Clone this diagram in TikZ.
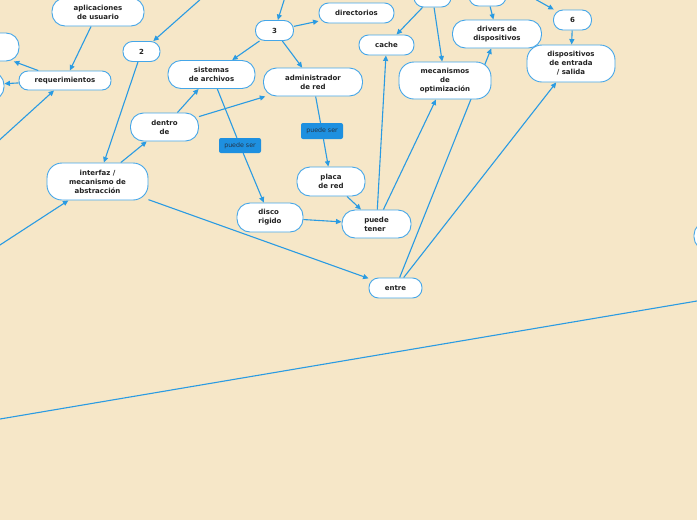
\documentclass[tikz,border=0pt]{standalone}
\usepackage{fontspec}
\setmainfont{DejaVu Sans}
\usetikzlibrary{arrows.meta}
\definecolor{bgc}{HTML}{F6E7C8}
\definecolor{ln}{HTML}{2A9BE2}
\definecolor{bd}{HTML}{45A6E8}
\definecolor{lbl}{HTML}{1E90E0}
\definecolor{tx}{HTML}{222222}
\definecolor{ltx}{HTML}{243447}
\pgfdeclarelayer{bglayer}
\pgfdeclarelayer{edgelayer}
\pgfsetlayers{bglayer,edgelayer,main}
\begin{document}
\begin{tikzpicture}[x=1pt,y=-1pt,
  box/.style={draw=bd, line width=0.9pt, fill=white, rounded corners=#1, inner sep=0pt,
    font=\fontsize{7}{9}\selectfont\bfseries, text=tx, align=center},
  box/.default=9.5pt,
  sz/.style 2 args={minimum width=#1pt, minimum height=#2pt},
  lab/.style={fill=lbl, rounded corners=2pt, inner sep=0pt,
    font=\fontsize{6.3}{7}\selectfont, text=ltx},
  ed/.style={draw=ln, line width=1.1pt, -{Triangle[length=5.5pt,width=5pt]}},
  pl/.style={draw=ln, line width=1.1pt}]
\useasboundingbox (0,0) rectangle (697,520);
\begin{pgfonlayer}{bglayer}
\fill[bgc] (0,0) rectangle (697,520);
\end{pgfonlayer}
\clip (0,0) rectangle (697,520);
% nodes
\node[box=13pt, sz={92}{28}] (apl) at (98,12) {aplicaciones\\de usuario};
\node[box=13pt, sz={88}{28}] (L2) at (-25,47) {};
\node[box=13pt, sz={88}{28}] (L3) at (-40,86) {};
\node[box=9pt, sz={92}{19}] (req) at (65,80.5) {requerimientos};
\node[box, sz={37}{20}] (n2) at (141.5,51.5) {2};
\node[box=13pt, sz={87}{28}] (sis) at (211.5,74.5) {sistemas\\de archivos};
\node[box, sz={38}{20}] (n3) at (274.5,30.5) {3};
\node[box, sz={75}{20}] (dir) at (356.5,13) {directorios};
\node[box=13pt, sz={99}{28}] (adm) at (313,82) {administrador\\de red};
\node[box, sz={55}{20}] (cache) at (386.5,45) {cache};
\node[box, sz={37}{20}] (t4) at (432.5,-3) {};
\node[box=15pt, sz={92}{37}] (mec) at (445,80.5) {mecanismos\\de\\optimización};
\node[box, sz={37}{20}] (t5) at (487.5,-4) {};
\node[box=13pt, sz={89}{28}] (drv) at (497,34) {drivers de\\dispositivos};
\node[box, sz={38}{20}] (n6) at (572.5,20) {6};
\node[box=15pt, sz={88}{37}] (dio) at (571,63.5) {dispositivos\\de entrada\\/ salida};
\node[box=13pt, sz={68}{28}] (dentro) at (164.5,127) {dentro\\de};
\node[box=15pt, sz={101}{37}] (inter) at (97.5,181.5) {interfaz /\\mecanismo de\\abstracción};
\node[lab, sz={42}{15}] (ps1) at (240,145.5) {puede ser};
\node[lab, sz={42}{16}] (ps2) at (322,131) {puede ser};
\node[box=13pt, sz={68}{29}] (placa) at (331,181.5) {placa\\de red};
\node[box=13pt, sz={66}{29}, align=left] (disco) at (270,217.5) {disco\\rigido};
\node[box=13pt, sz={69}{28}, align=left] (tener) at (376.5,224) {puede\\tener};
\node[box, sz={53}{20}] (entre) at (395.5,288) {entre};
\node[box=13pt, sz={92}{28}] (R) at (740,236) {};
% free ends
\coordinate (c2) at (229,-26);
\coordinate (c3) at (293,-28);
\coordinate (c6) at (483,-30);
\coordinate (cq) at (-60,194);
\coordinate (ci) at (-60,284);
\coordinate (la) at (-10,420.7);
\coordinate (lb) at (710,298.8);
% connectors
\begin{pgfonlayer}{edgelayer}
\begin{scope}
\clip (0,0) rectangle (697,520);
\draw[ed] (c2) -- (n2);
\draw[ed] (n2) -- (inter);
\draw[ed] (apl) -- (req);
\draw[ed] (req) -- (L2);
\draw[ed] (req) -- (L3);
\draw[ed] (cq) -- (req);
\draw[ed] (ci) -- (inter);
\draw[ed] (inter) -- (dentro);
\draw[ed] (dentro) -- (sis);
\draw[ed] (dentro) -- (adm);
\draw[pl] (sis) -- (ps1);
\draw[ed] (ps1) -- (disco);
\draw[pl] (adm) -- (ps2);
\draw[ed] (ps2) -- (placa);
\draw[ed] (inter) -- (entre);
\draw[ed] (disco) -- (tener);
\draw[ed] (placa) -- (tener);
\draw[ed] (tener) -- (cache);
\draw[ed] (tener) -- (mec);
\draw[ed] (entre) -- (drv);
\draw[ed] (entre) -- (dio);
\draw[ed] (t4) -- (cache);
\draw[ed] (t4) -- (mec);
\draw[ed] (t5) -- (drv);
\draw[ed] (c6) -- (n6);
\draw[ed] (n6) -- (dio);
\draw[ed] (c3) -- (n3);
\draw[ed] (n3) -- (dir);
\draw[ed] (n3) -- (sis);
\draw[ed] (n3) -- (adm);
\draw[pl] (la) -- (lb);
\end{scope}
\end{pgfonlayer}
\end{tikzpicture}
\end{document}
